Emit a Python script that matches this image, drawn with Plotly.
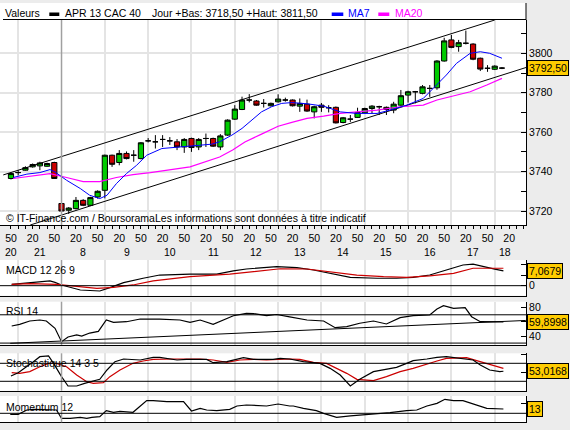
import plotly.graph_objects as go

# 10 min candles: 20:50 -> 21:50 (evening), then 8:00 -> 18:10
idx = list(range(69))
opens = [3736.5, 3739.5, 3740.7, 3742.4, 3742.9, 3742.7, 3744.6, 3723.8, 3720.4, 3721.2,
         3725.4, 3722.9, 3727.1, 3730.5, 3748.3, 3744.6, 3749.2, 3748.3, 3746.6, 3755.6,
         3755.1, 3756.3, 3755.6, 3755.1, 3752.5, 3756.8, 3752.5, 3756.8, 3756.8, 3752.5,
         3758.5, 3766.6, 3771.5, 3776.3, 3775.8, 3774.6, 3773.4, 3775.4, 3776.3, 3776.3,
         3773.2, 3774.2, 3770.3, 3773.7, 3772.4, 3772.6, 3764.9, 3766.6, 3767.5, 3769.8,
         3772.0, 3772.9, 3772.6, 3771.2, 3773.7, 3778.8, 3780.5, 3779.7, 3782.2, 3782.5,
         3796.1, 3806.8, 3803.4, 3805.1, 3804.7, 3797.5, 3792.4, 3791.9, 3792.5]
highs = [3739.5, 3740.7, 3742.7, 3744.1, 3745.0, 3744.5, 3745.0, 3724.2, 3722.0, 3727.1,
         3726.0, 3727.2, 3730.5, 3748.6, 3748.6, 3750.9, 3750.2, 3750.9, 3755.0, 3757.0,
         3758.5, 3758.5, 3757.5, 3756.5, 3757.0, 3757.2, 3757.0, 3759.3, 3757.2, 3759.0,
         3766.5, 3773.7, 3778.0, 3779.3, 3776.3, 3776.8, 3775.0, 3779.2, 3777.5, 3776.6,
         3777.1, 3776.5, 3773.4, 3774.8, 3773.7, 3773.0, 3767.7, 3768.7, 3772.4, 3772.4,
         3773.7, 3773.4, 3773.0, 3775.4, 3781.4, 3781.0, 3780.9, 3783.9, 3783.9, 3796.5,
         3807.9, 3809.3, 3806.8, 3811.5, 3805.1, 3797.8, 3794.0, 3793.9, 3793.0]
lows = [3736.0, 3738.1, 3740.5, 3742.0, 3740.7, 3742.5, 3736.3, 3719.0, 3718.5, 3720.8,
        3722.5, 3722.5, 3726.3, 3726.4, 3742.4, 3743.2, 3746.2, 3745.0, 3746.2, 3754.8,
        3751.7, 3752.5, 3753.5, 3750.9, 3749.5, 3750.0, 3750.9, 3752.5, 3752.5, 3750.9,
        3758.1, 3766.2, 3771.2, 3775.1, 3773.4, 3772.5, 3773.0, 3775.0, 3775.5, 3773.0,
        3770.3, 3770.3, 3767.0, 3770.3, 3770.0, 3764.4, 3764.5, 3765.2, 3767.2, 3769.5,
        3769.5, 3768.7, 3768.7, 3769.6, 3773.4, 3775.0, 3774.6, 3779.2, 3777.9, 3781.5,
        3795.8, 3802.6, 3800.8, 3804.5, 3796.5, 3791.0, 3790.6, 3791.5, 3792.0]
closes = [3739.0, 3739.5, 3742.0, 3743.6, 3744.4, 3744.1, 3736.5, 3720.0, 3721.5, 3725.4,
          3722.9, 3726.8, 3730.0, 3748.3, 3743.7, 3749.2, 3746.6, 3748.3, 3754.6, 3755.6,
          3755.1, 3756.3, 3755.6, 3752.5, 3756.3, 3752.2, 3756.3, 3756.8, 3752.9, 3758.1,
          3766.1, 3771.7, 3776.3, 3776.3, 3773.7, 3774.6, 3774.6, 3776.8, 3776.3, 3773.4,
          3774.6, 3770.7, 3772.9, 3772.6, 3772.4, 3764.7, 3767.3, 3766.6, 3770.0, 3772.0,
          3773.2, 3772.9, 3771.5, 3774.2, 3778.5, 3780.5, 3780.5, 3783.0, 3782.2, 3796.1,
          3806.3, 3803.0, 3805.4, 3805.1, 3797.0, 3792.0, 3792.4, 3793.5, 3792.5]

ma7_x = [0.3, 2.2, 4.0, 5.4, 6.1, 7.7, 9.6, 10.9, 12.3, 13.3, 14.6, 16.0, 17.4, 18.8, 20.9,
         23.2, 25.5, 27.8, 28.9, 30.6, 32.0, 33.3, 34.7, 36.1, 37.5, 38.9, 41.0, 43.3, 45.6,
         47.9, 50.7, 52.5, 54.8, 57.1, 59.0, 60.3, 61.7, 63.6, 65.0, 66.3, 68.0]
ma7 = [3737.0, 3738.7, 3739.5, 3741.0, 3739.8, 3735.6, 3731.4, 3728.0, 3726.3, 3728.0, 3733.9,
       3739.0, 3743.2, 3748.3, 3751.7, 3752.5, 3753.4, 3753.9, 3755.1, 3758.5, 3761.9, 3766.1,
       3770.3, 3772.9, 3774.6, 3775.0, 3774.4, 3773.2, 3770.3, 3769.5, 3769.5, 3771.2, 3773.7,
       3777.1, 3783.9, 3789.0, 3794.9, 3800.0, 3800.8, 3800.0, 3797.5]

ma20_x = [0.3, 3.1, 5.4, 7.7, 10.0, 12.3, 14.6, 16.9, 19.3, 24.8, 28.9, 30.7, 32.4, 34.7, 37.0,
          38.9, 41.0, 43.3, 45.6, 47.9, 50.7, 53.9, 57.1, 59.0, 61.3, 63.6, 65.9, 68.0]
ma20 = [3736.5, 3737.8, 3739.0, 3737.0, 3734.9, 3734.9, 3737.0, 3738.5, 3739.5, 3742.4, 3747.4,
        3750.9, 3755.0, 3759.0, 3763.0, 3765.0, 3767.0, 3768.1, 3769.5, 3770.3, 3771.2, 3772.9,
        3773.7, 3776.3, 3778.5, 3780.5, 3783.9, 3787.3]

# channel lines (two points each)
chan_up_x = [-1.07, 67.0]
chan_up = [3738.3, 3816.9]
chan_lo_x = [2.67, 71.33]
chan_lo = [3712.9, 3792.8]

macd_x = [0.1, 2.6, 5.4, 6.1, 7.0, 9.6, 12.3, 13.7, 15.6, 18.3, 20.6, 24.8, 28.5, 30.8, 32.6,
          36.8, 38.6, 39.6, 41.9, 44.2, 47.0, 50.7, 53.4, 55.7, 58.0, 60.3, 62.6, 64.0, 65.9,
          67.0, 68.2]
macd = [0.67, 1.44, 2.26, 1.6, 0.34, -2.06, -2.54, -0.96, 1.44, 3.55, 5.1, 5.5, 5.5, 7.06, 8.0,
        9.1, 8.6, 8.6, 7.5, 5.9, 4.0, 3.55, 3.55, 4.0, 5.1, 7.5, 9.9, 10.3, 8.6, 7.9, 7.07]
signal_x = [0.1, 2.6, 6.3, 9.6, 11.9, 14.2, 16.9, 19.7, 24.8, 30.3, 33.6, 37.3, 41.0, 44.2,
            47.9, 51.6, 54.8, 58.0, 61.3, 64.0, 66.3, 68.2]
signal = [0.67, 0.96, 0.67, -0.48, -1.25, -0.77, 0.34, 2.26, 4.3, 5.5, 6.7, 8.1, 8.0, 6.7,
          5.1, 4.3, 4.0, 4.65, 5.9, 8.35, 8.35, 8.35]

rsi_x = [0.1, 1.2, 2.6, 4.0, 4.9, 6.1, 7.0, 7.9, 9.1, 9.8, 10.9, 12.1, 13.2, 14.2, 16.0, 17.9,
         20.6, 23.4, 24.8, 26.2, 28.0, 29.4, 30.8, 32.6, 33.6, 35.4, 36.8, 38.6, 41.0, 43.3,
         44.9, 46.5, 48.3, 50.2, 52.0, 53.9, 55.7, 58.0, 59.0, 59.9, 61.3, 62.9, 63.8, 65.0,
         66.8, 68.2]
rsi = [54.2, 56.5, 61.2, 62.6, 61.2, 50.9, 32.0, 38.6, 41.6, 40.0, 44.2, 46.5, 62.6, 59.4,
       60.2, 64.0, 64.0, 62.6, 59.4, 62.6, 56.5, 62.6, 68.7, 72.1, 71.7, 68.7, 70.4, 67.0,
       62.6, 61.2, 51.8, 53.2, 58.0, 61.2, 57.0, 65.9, 68.7, 69.7, 78.2, 82.8, 79.1, 80.0,
       67.3, 60.2, 60.2, 59.9]
rsi_trend_x = [-0.1, 71.3]
rsi_trend = [29.7, 62.0]

stoch_k_x = [0.0, 1.0, 3.1, 4.0, 5.2, 5.9, 7.0, 7.9, 9.1, 10.2, 11.9, 12.3, 13.3, 14.4, 15.6,
             17.9, 19.7, 20.6, 23.0, 24.3, 27.1, 28.0, 29.9, 32.2, 33.6, 36.3, 37.3, 38.6, 40.5,
             42.8, 44.2, 45.6, 47.0, 48.3, 50.2, 52.0, 53.4, 54.8, 55.7, 57.6, 59.0, 60.3, 62.2,
             64.0, 65.0, 66.3, 67.7, 68.2]
stoch_k = [39.7, 49.0, 79.5, 93.4, 95.3, 74.9, 37.9, 11.9, 11.9, 19.4, 28.6, 30.5, 56.4, 79.5,
           87.0, 84.2, 91.6, 91.6, 84.2, 86.0, 86.0, 76.8, 79.5, 90.6, 86.0, 86.0, 88.8, 87.0,
           79.5, 74.9, 61.0, 42.5, 11.9, 30.5, 51.8, 59.2, 63.8, 74.9, 82.3, 87.0, 91.6, 93.4,
           88.8, 84.2, 70.3, 56.4, 51.8, 53.0]
stoch_d_x = [0.1, 1.2, 2.6, 4.0, 5.2, 6.3, 7.7, 9.1, 10.5, 11.4, 12.8, 13.7, 15.1, 16.9, 18.3,
             19.7, 22.5, 26.2, 28.0, 29.9, 31.7, 33.6, 35.4, 38.6, 40.0, 41.9, 43.7, 45.1, 46.5,
             47.9, 50.2, 52.0, 53.9, 55.7, 57.1, 59.0, 60.3, 63.1, 64.5, 65.9, 67.3, 68.2]
stoch_d = [49.0, 47.1, 51.8, 65.6, 74.9, 74.9, 65.6, 42.5, 24.0, 19.4, 21.2, 37.9, 56.4, 74.9,
           81.4, 86.0, 87.0, 87.0, 84.2, 77.7, 84.2, 86.0, 84.2, 87.0, 86.0, 77.7, 74.9, 61.0,
           47.1, 30.5, 26.8, 37.9, 51.8, 61.0, 70.3, 81.4, 88.8, 90.6, 82.3, 74.9, 67.5, 61.0]

mom_x = [-0.1, 1.0, 2.2, 3.1, 6.3, 7.0, 8.2, 9.6, 10.5, 11.2, 12.3, 13.2, 14.2, 15.1, 16.9,
         18.8, 19.7, 21.6, 23.9, 25.0, 26.2, 27.1, 28.5, 30.3, 31.3, 32.6, 35.4, 37.0, 38.6,
         39.1, 40.5, 42.3, 43.3, 45.1, 47.0, 48.8, 51.1, 52.5, 54.8, 56.2, 57.6, 59.0, 60.1,
         61.3, 62.6, 64.5, 65.9, 68.2]
mom = [-3, -3, 10, 12, 10, -15, -15, -12, -15, -12, -10, 8, 3, 6, 3, 38, 38, 35, 35, 7, 15,
       10, 8, 12, 22, 25, 22, 28, 22, 22, 15, 8, 0, -12, -8, -5, -2, 2, 8, 10, 22, 30, 42,
       38, 38, 25, 15, 13]

minute_ticks = list(range(0, 72))
minute_text = ['50' if i % 6 == 0 else ('20' if i % 6 == 3 else '') for i in minute_ticks]
hour_pos = [0, 4, 10, 16, 22, 28, 34, 40, 46, 52, 58, 64, 68.4]
hour_text = ['20', '21', '8', '9', '10', '11', '12', '13', '14', '15', '16', '17', '18']
grid_hours = [1, 13, 19, 25, 31, 37, 43, 49, 55, 61, 67]
day_break = 7

FONT = 'Liberation Sans, Arial, sans-serif'
W, H = 570, 430
GRID = '#e4e4e4'
BG = '#ececec'


def px(x):
    return x / W


def py(y):
    return 1 - y / H


# panel vertical extents in pixels (top, bottom)
panels = {'': (20, 225), '2': (260, 295.7), '3': (301.7, 345), '4': (353.3, 390.7), '5': (396, 422.3)}

fig = go.Figure()

fig.add_trace(go.Scatter(x=chan_up_x, y=chan_up, mode='lines', line=dict(color='black', width=1)))
fig.add_trace(go.Scatter(x=chan_lo_x, y=chan_lo, mode='lines', line=dict(color='black', width=1)))
fig.add_trace(go.Scatter(x=ma20_x, y=ma20, mode='lines', line=dict(color='#ff00ff', width=1.2)))
fig.add_trace(go.Scatter(x=ma7_x, y=ma7, mode='lines', line=dict(color='#0000ff', width=1)))
fig.add_trace(go.Candlestick(
    x=idx, open=opens, high=highs, low=lows, close=closes,
    increasing=dict(line=dict(color='black', width=1), fillcolor='#00cc00'),
    decreasing=dict(line=dict(color='black', width=1), fillcolor='#cc0000'),
    whiskerwidth=0))

fig.add_trace(go.Scatter(x=macd_x, y=macd, mode='lines', line=dict(color='black', width=1.2),
                         xaxis='x2', yaxis='y2'))
fig.add_trace(go.Scatter(x=signal_x, y=signal, mode='lines', line=dict(color='#cc0000', width=1.2),
                         xaxis='x2', yaxis='y2'))
fig.add_trace(go.Scatter(x=rsi_trend_x, y=rsi_trend, mode='lines', line=dict(color='black', width=1),
                         xaxis='x3', yaxis='y3'))
fig.add_trace(go.Scatter(x=rsi_x, y=rsi, mode='lines', line=dict(color='black', width=1.2),
                         xaxis='x3', yaxis='y3'))
fig.add_trace(go.Scatter(x=stoch_d_x, y=stoch_d, mode='lines', line=dict(color='#cc0000', width=1.2),
                         xaxis='x4', yaxis='y4'))
fig.add_trace(go.Scatter(x=stoch_k_x, y=stoch_k, mode='lines', line=dict(color='black', width=1.2),
                         xaxis='x4', yaxis='y4'))
fig.add_trace(go.Scatter(x=mom_x, y=mom, mode='lines', line=dict(color='black', width=1.2),
                         xaxis='x5', yaxis='y5'))

xrange = [-1.52, 71.33]
xdom = [0, 526 / W]
tickfont = dict(family=FONT, size=10.5, color='black')

layout = dict(
    width=W, height=H, margin=dict(l=0, r=0, t=0, b=0),
    paper_bgcolor=BG, plot_bgcolor='white', showlegend=False,
    font=dict(family=FONT, size=10.5, color='black'),
    boxgap=0.1, boxgroupgap=0.2,
)

yranges = {'': [3712.9, 3816.9], '2': [-4.8, 12.3], '3': [27.3, 88.5], '4': [-1.1, 102.8], '5': [-27, 52]}
yticks = {'': ([3720, 3740, 3760, 3780, 3800], ['3720', '3740', '3760', '3780', '3800']),
          '2': ([0, 5, 10], ['0', '', '']),
          '3': ([40, 60, 80], ['40', '', '80']),
          '4': ([50, 100], ['', '']),
          '5': ([30], [''])}

for k, (top, bot) in panels.items():
    xa = dict(domain=xdom, range=xrange, anchor='y' + k, showline=True, linecolor='black',
              linewidth=1, showgrid=False, zeroline=False, fixedrange=True,
              minor=dict(tickvals=grid_hours, showgrid=True, gridcolor=GRID, gridwidth=2, ticks=''))
    if k == '':
        xa.update(tickmode='array', tickvals=minute_ticks, ticktext=minute_text, ticks='outside',
                  ticklen=3, tickcolor='black', tickfont=tickfont, rangeslider=dict(visible=False))
    else:
        xa.update(matches='x', showticklabels=False, ticks='')
    ya = dict(domain=[py(bot), py(top)], range=yranges[k], anchor='x' + k, side='right',
              showline=True, linecolor='black', linewidth=1, zeroline=False, fixedrange=True,
              tickmode='array', tickvals=yticks[k][0], ticktext=yticks[k][1],
              ticks='inside', ticklen=5, tickcolor='black', tickfont=tickfont, showgrid=False)
    if k == '':
        ya.update(showgrid=True, gridcolor=GRID, gridwidth=2,
                  minor=dict(tickvals=[3730, 3750, 3770, 3790, 3810], ticks='inside', ticklen=5,
                             tickcolor='black', showgrid=False))
    layout['xaxis' + k] = xa
    layout['yaxis' + k] = ya

shapes = []
# header area
shapes.append(dict(type='rect', xref='paper', yref='paper', x0=0, x1=px(526), y0=py(20), y1=py(3),
                   fillcolor='white', line=dict(width=0), layer='below'))
shapes.append(dict(type='line', xref='paper', yref='paper', x0=px(3), x1=px(526), y0=py(19.5), y1=py(19.5),
                   line=dict(color='black', width=1)))
shapes.append(dict(type='line', xref='paper', yref='paper', x0=px(526), x1=px(526), y0=py(20), y1=py(3),
                   line=dict(color='black', width=1)))
for x0, x1, c in [(49.3, 59.3, 'black'), (331.7, 343.3, '#0000ff'), (378.3, 389.3, '#ff00ff')]:
    shapes.append(dict(type='rect', xref='paper', yref='paper', x0=px(x0), x1=px(x1), y0=py(16), y1=py(12.5),
                       fillcolor=c, line=dict(width=0)))
# day break separator
for k in panels:
    shapes.append(dict(type='line', xref='x' + k, yref='y%s domain' % k, x0=day_break, x1=day_break,
                       y0=0, y1=1, line=dict(color='#a0a0a0', width=1.5)))
# reference levels
for k, lv in [('2', 0), ('3', 70), ('3', 30), ('4', 75), ('4', 25), ('5', 0)]:
    shapes.append(dict(type='line', xref='x%s domain' % k, yref='y' + k, x0=0, x1=1, y0=lv, y1=lv,
                       line=dict(color='black', width=1)))
layout['shapes'] = shapes

ann = []


def text(x, y, s, color='black'):
    ann.append(dict(xref='paper', yref='paper', x=px(x), y=py(y), text=s, showarrow=False,
                    xanchor='left', yanchor='middle', font=dict(family=FONT, size=10.5, color=color)))


text(3, 13.3, 'Valeurs')
text(62.5, 13.3, 'APR 13 CAC 40')
text(150, 13.3, 'Jour +Bas: 3718,50 +Haut: 3811,50')
text(346, 13.3, 'MA7', '#0000ff')
text(392.5, 13.3, 'MA20', '#ff00ff')
text(4, 218.3, '© IT-Finance.com / BoursoramaLes informations sont données à titre indicatif')
text(4, 270, 'MACD 12 26 9')
text(4, 311, 'RSI 14')
text(4, 362.7, 'Stochastique 14 3 5')
text(4, 406.7, 'Momentum 12')

for hp, ht in zip(hour_pos, hour_text):
    ann.append(dict(xref='x', yref='paper', x=hp, y=py(251.7), text=ht, showarrow=False,
                    xanchor='center', yanchor='middle', font=tickfont))

for k, v, s in [('', 3792.5, '3792,50'), ('2', 7.0679, '7,0679'), ('3', 59.8998, '59,8998'),
                ('4', 53.0168, '53,0168'), ('5', 13, '13')]:
    ann.append(dict(xref='paper', yref='y' + k, x=px(526.5), y=v, text=s, showarrow=False,
                    xanchor='left', yanchor='middle', bgcolor='#ffcc00', bordercolor='black',
                    borderwidth=1, borderpad=1, font=tickfont))
layout['annotations'] = ann

fig.update_layout(**layout)
fig.write_html("out.html", config={'displayModeBar': False},
               post_script="document.body.style.margin='0';")
